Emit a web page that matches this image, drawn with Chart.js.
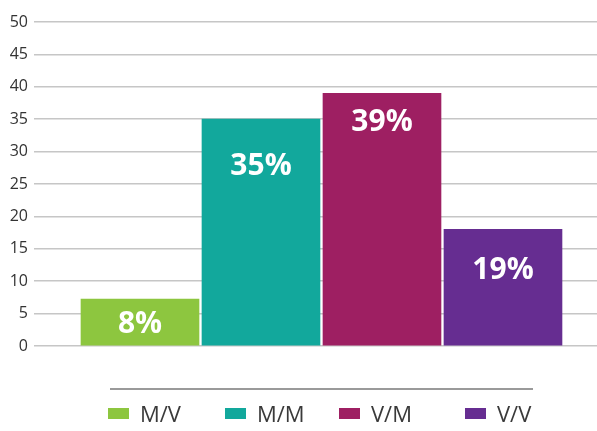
<!DOCTYPE html>
<html>
<head>
<meta charset="utf-8">
<script src="https://cdn.jsdelivr.net/npm/chart.js@4"></script>
<style>
  html, body { margin: 0; padding: 0; background: #fff; }
  #wrap { position: relative; width: 597px; height: 431px; }
  #legendLine { position: absolute; left: 110px; top: 388px; width: 423px; height: 0; border-top: 2px solid #9a9a9a; }
  #legend { position: absolute; left: 108px; top: 398px; display: flex; font-family: "Open Sans", sans-serif; font-size: 22px; color: #3a3a3a; }
  .item { display: flex; align-items: center; }
  .swatch { display: inline-block; width: 21px; height: 11px; margin-right: 11px; }
</style>
</head>
<body>
<div id="wrap">
  <canvas id="chart" width="597" height="431"></canvas>
  <div id="legendLine"></div>
  <div id="legend"></div>
</div>
<script>
// Data
const categories = ['M/V', 'M/M', 'V/M', 'V/V'];
const values = [7.25, 35, 39, 18];
const shownLabels = ['8%', '35%', '39%', '19%'];
const colors = ['#8dc63f', '#12a89c', '#9e1f62', '#662d91'];
const yTicks = [0, 5, 10, 15, 20, 25, 30, 35, 40, 45, 50];

// where inside each bar the big label sits (in axis units)
const labelAt = [3.3, 27.7, 34.5, 11.7];

// legend column widths (px)
const legendWidths = [117, 114, 126, 80];

// Draw the percentage text on the bars
const barLabels = {
    id: 'barLabels',
    afterDatasetsDraw(chart) {
        const ctx = chart.ctx;
        const yScale = chart.scales.y;
        ctx.save();
        ctx.fillStyle = '#ffffff';
        ctx.font = 'bold 30px "Open Sans", sans-serif';
        ctx.textAlign = 'center';
        ctx.textBaseline = 'middle';
        chart.data.datasets.forEach((ds, i) => {
            const bar = chart.getDatasetMeta(i).data[0];
            ctx.fillText(shownLabels[i], bar.x, yScale.getPixelForValue(labelAt[i]));
        });
        ctx.restore();
    }
};

const datasets = categories.map((name, i) => ({
    label: name,
    data: [{ x: i + 1, y: values[i] }],
    backgroundColor: colors[i],
    borderWidth: 0,
    barThickness: 118,
    grouped: false
}));

const chart = new Chart(document.getElementById('chart'), {
    type: 'bar',
    data: { datasets: datasets },
    plugins: [barLabels],
    options: {
        responsive: false,
        animation: false,
        layout: {
            padding: { top: 22, right: 0, bottom: 85, left: 0 }
        },
        scales: {
            x: {
                type: 'linear',
                min: 0.124,
                max: 4.777,
                offset: false,
                display: false
            },
            y: {
                min: 0,
                max: 50,
                afterBuildTicks: function(scale) {
                    scale.ticks = yTicks.map(v => ({ value: v }));
                },
                afterFit: function(scale) {
                    scale.width = 34;
                },
                border: { display: false },
                grid: {
                    color: '#c6c6c6',
                    lineWidth: 1.5,
                    drawTicks: false
                },
                ticks: {
                    color: '#333333',
                    padding: 6,
                    font: { family: '"Open Sans", sans-serif', size: 16 }
                }
            }
        },
        plugins: {
            legend: { display: false },
            tooltip: { enabled: false }
        }
    }
});

// HTML legend under the chart
const legendEl = document.getElementById('legend');
categories.forEach((name, i) => {
    const item = document.createElement('div');
    item.className = 'item';
    item.style.width = legendWidths[i] + 'px';
    const sw = document.createElement('span');
    sw.className = 'swatch';
    sw.style.background = colors[i];
    const txt = document.createElement('span');
    txt.textContent = name;
    item.appendChild(sw);
    item.appendChild(txt);
    legendEl.appendChild(item);
});
</script>
</body>
</html>
